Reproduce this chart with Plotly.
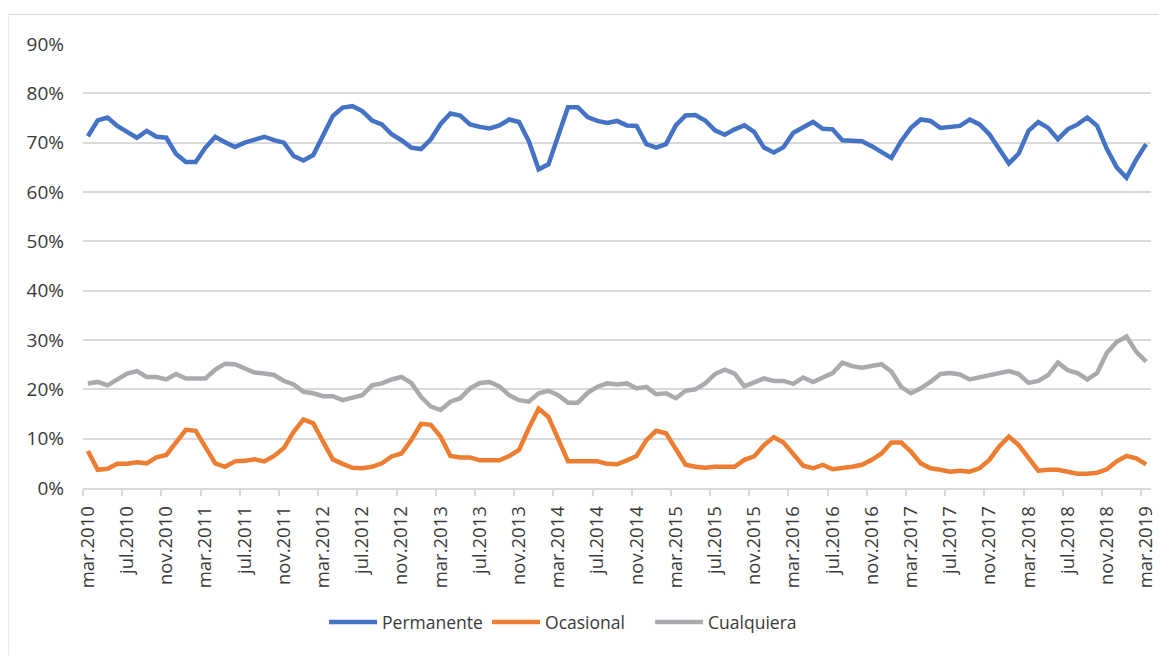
import plotly.graph_objects as go

# monthly series, mar.2010 .. mar.2019 (values in %)
tick_labels = [
    "mar.2010", "jul.2010", "nov.2010",
    "mar.2011", "jul.2011", "nov.2011",
    "mar.2012", "jul.2012", "nov.2012",
    "mar.2013", "jul.2013", "nov.2013",
    "mar.2014", "jul.2014", "nov.2014",
    "mar.2015", "jul.2015", "nov.2015",
    "mar.2016", "jul.2016", "nov.2016",
    "mar.2017", "jul.2017", "nov.2017",
    "mar.2018", "jul.2018", "nov.2018",
    "mar.2019",
]

permanente = [
    71.3, 74.5, 75.1, 73.4, 72.2, 71.0, 72.4, 71.2, 71.0, 67.7,
    66.1, 66.1, 69.0, 71.2, 70.1, 69.1, 70.0, 70.5, 71.2, 70.5,
    70.0, 67.3, 66.4, 67.5, 71.7, 75.4, 77.1, 77.4, 76.4, 74.5,
    73.7, 71.7, 70.5, 69.0, 68.7, 70.7, 73.8, 75.9, 75.5, 73.7,
    73.2, 72.9, 73.5, 74.7, 74.2, 70.3, 64.6, 65.6, 71.4, 77.2,
    77.2, 75.2, 74.4, 74.0, 74.4, 73.5, 73.4, 69.7, 69.0, 69.7,
    73.5, 75.5, 75.6, 74.5, 72.5, 71.6, 72.7, 73.5, 72.2, 69.0,
    68.0, 69.1, 72.0, 73.0, 74.2, 72.8, 72.7, 70.5, 70.5, 70.3,
    69.3, 68.0, 66.9, 70.3, 73.0, 74.7, 74.4, 73.0, 73.2, 73.4,
    74.7, 73.7, 71.7, 68.7, 65.8, 67.8, 72.4, 74.2, 73.0, 70.7,
    72.7, 73.7, 75.1, 73.4, 68.7, 65.0, 62.9, 66.6, 69.7,
]

ocasional = [
    7.5, 3.7, 3.9, 4.9, 4.9, 5.2, 5.0, 6.2, 6.7, 9.4,
    11.8, 11.6, 8.5, 5.0, 4.3, 5.4, 5.5, 5.8, 5.4, 6.5,
    8.1, 11.4, 13.9, 13.1, 9.4, 5.8, 4.9, 4.1, 4.0, 4.3,
    5.0, 6.4, 7.0, 9.7, 13.0, 12.8, 10.4, 6.5, 6.2, 6.2,
    5.6, 5.6, 5.6, 6.5, 7.7, 12.1, 16.1, 14.4, 9.7, 5.4,
    5.4, 5.5, 5.4, 4.9, 4.8, 5.6, 6.5, 9.7, 11.6, 11.1,
    8.1, 4.7, 4.3, 4.1, 4.3, 4.3, 4.3, 5.7, 6.4, 8.7,
    10.3, 9.2, 6.7, 4.5, 4.0, 4.7, 3.8, 4.0, 4.3, 4.7,
    5.7, 7.0, 9.2, 9.2, 7.4, 5.0, 4.0, 3.7, 3.3, 3.5,
    3.3, 4.0, 5.7, 8.4, 10.4, 8.7, 6.0, 3.5, 3.7, 3.7,
    3.3, 2.9, 2.9, 3.1, 3.8, 5.4, 6.5, 6.0, 4.8,
]

cualquiera = [
    21.2, 21.5, 20.8, 21.9, 23.2, 23.7, 22.5, 22.5, 22.0, 23.1,
    22.2, 22.2, 22.2, 24.0, 25.2, 25.1, 24.2, 23.4, 23.2, 22.9,
    21.7, 21.0, 19.5, 19.2, 18.6, 18.6, 17.8, 18.4, 18.8, 20.8,
    21.2, 22.0, 22.5, 21.3, 18.5, 16.5, 15.8, 17.5, 18.2, 20.2,
    21.3, 21.5, 20.6, 18.8, 17.8, 17.5, 19.2, 19.7, 18.8, 17.3,
    17.3, 19.3, 20.5, 21.2, 21.0, 21.2, 20.2, 20.5, 19.0, 19.2,
    18.2, 19.7, 20.0, 21.2, 23.1, 24.0, 23.2, 20.6, 21.3, 22.2,
    21.7, 21.7, 21.1, 22.4, 21.5, 22.4, 23.3, 25.4, 24.7, 24.4,
    24.7, 25.1, 23.6, 20.5, 19.2, 20.2, 21.5, 23.1, 23.3, 23.0,
    22.0, 22.4, 23.0, 23.3, 23.7, 23.1, 21.3, 21.7, 22.9, 25.4,
    23.9, 23.3, 22.0, 23.3, 27.4, 29.6, 30.7, 27.6, 25.6,
]

months = list(range(len(permanente)))
label_pos = months[::4]
boundary_pos = [m - 0.5 for m in label_pos]

FONT = "Open Sans, Noto Sans, sans-serif"
TEXT = "#3a3a3a"
GRID = "#D9D9D9"

fig = go.Figure()
for name, values, color in [
    ("Permanente", permanente, "#4472C4"),
    ("Ocasional", ocasional, "#ED7D31"),
    ("Cualquiera", cualquiera, "#A9AAAE"),
]:
    fig.add_trace(go.Scatter(
        x=months, y=values, name=name, mode="lines",
        line=dict(color=color, width=4.5),
    ))

# the page adds an 8px body margin, so the figure is shifted back by 8px
fig.update_layout(
    width=1167, height=655,
    margin=dict(l=75, r=24, t=36, b=175),
    paper_bgcolor="white", plot_bgcolor="white",
    font=dict(family=FONT, color=TEXT),
    legend=dict(
        orientation="h", x=0.2257, xanchor="left", y=-0.302, yanchor="middle",
        font=dict(size=17.5, color=TEXT),
        itemwidth=48, entrywidth=100,
    ),
    xaxis=dict(
        range=[-0.5, len(months) - 0.5],
        tickmode="array", tickvals=label_pos, ticktext=tick_labels,
        tickangle=-90, tickfont=dict(size=18.5, color=TEXT),
        ticks="", showgrid=False, zeroline=False,
        showline=True, linecolor=GRID, linewidth=1.5,
        ticklabelstandoff=9,
        minor=dict(tickmode="array", tickvals=boundary_pos, ticks="outside",
                   ticklen=6, tickwidth=1.5, tickcolor=GRID, showgrid=False),
    ),
    yaxis=dict(
        range=[0, 90], dtick=10, ticksuffix="%",
        tickfont=dict(size=19, color=TEXT),
        showgrid=True, gridcolor=GRID, gridwidth=1.5,
        zeroline=False, showline=False,
        ticklabelstandoff=18,
    ),
    shapes=[dict(
        type="rect", xref="paper", yref="paper",
        x0=-0.0702, x1=1.2, y0=-0.6, y1=1.0664,
        line=dict(color=GRID, width=1), fillcolor="rgba(0,0,0,0)", layer="below",
    )],
)

fig.write_html("out.html")
